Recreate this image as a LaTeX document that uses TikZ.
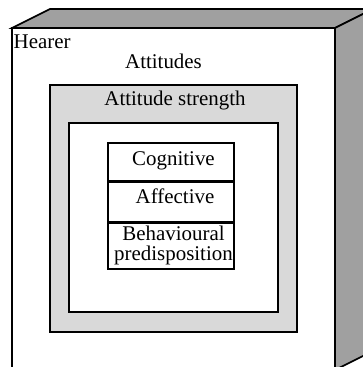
\documentclass[tikz,border=0pt]{standalone}
\usepackage{fontspec}
\setmainfont{Liberation Serif}
\definecolor{sidegray}{HTML}{A0A0A0}
\definecolor{lightgray}{HTML}{D9D9D9}
\begin{document}
\begin{tikzpicture}[x=1bp,y=-1bp,
  edge/.style={draw=black,line width=1.6bp,line join=miter},
  lbl/.style={inner sep=0pt,font=\fontsize{21}{18.5}\selectfont},
  cell/.style={edge,fill=white,minimum width=126bp,inner sep=0pt,anchor=north}]
\useasboundingbox (0,0) rectangle (363,367);
\clip (0,0) rectangle (363,367);
% 3D box
\coordinate (ftl) at (12,28);
\coordinate (ftr) at (335,28);
\coordinate (fbr) at (335,370);
\coordinate (btl) at (50,9);
\coordinate (btr) at (373,9);
\coordinate (bbr) at (373,351);
\draw[edge,fill=sidegray] (ftl) -- (btl) -- (btr) -- (ftr) -- cycle;
\draw[edge,fill=sidegray] (ftr) -- (btr) -- (bbr) -- (fbr) -- cycle;
\draw[edge,fill=white] (ftl) rectangle (fbr);
% attitude strength box
\draw[edge,fill=lightgray] (50,85) rectangle (297,332);
\draw[edge,fill=white] (69,123) rectangle (278,312);
% texts
\node[lbl,anchor=base west] (hearer) at (13.5,48) {Hearer};
\node[lbl,anchor=base] (att) at (163.5,68) {Attitudes};
\node[lbl,anchor=base] (strength) at (175,105) {Attitude strength};
% stack
\node[cell,minimum height=37.5bp] (cog) at (171,142) {};
\node[cell,minimum height=39.5bp] (aff) at (cog.south) {};
\node[cell,minimum height=46bp] (beh) at (aff.south) {};
\node[lbl,anchor=base] (cogt) at (173.5,165) {Cognitive};
\node[lbl,anchor=base] (afft) at (175,203) {Affective};
\node[lbl,anchor=base] (beht) at (173.5,260.5)
  {\parbox[b]{126bp}{\centering\fontsize{21}{20.5}\selectfont Behavioural\\predisposition}};
\end{tikzpicture}
\end{document}
